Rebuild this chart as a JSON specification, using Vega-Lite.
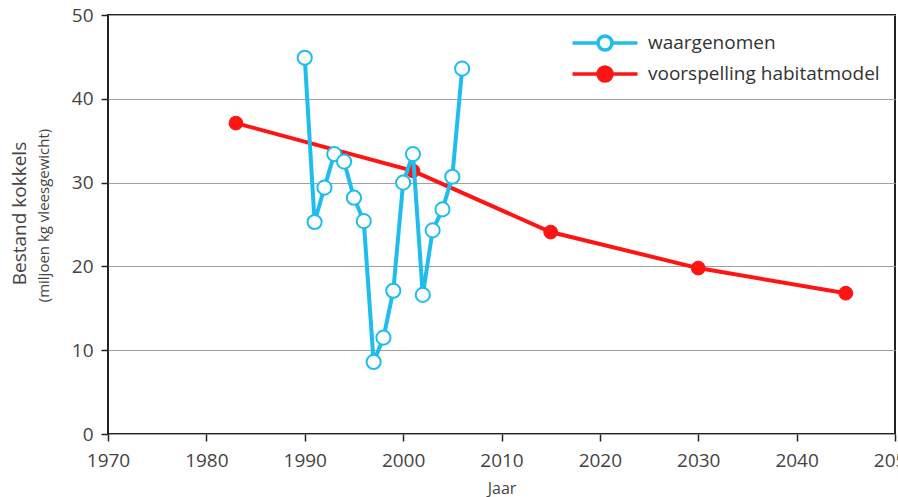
{
  "$schema": "https://vega.github.io/schema/vega-lite/v6.json",
  "width": 787,
  "height": 419,
  "autosize": "none",
  "padding": {"left": 108, "top": 15, "right": 3, "bottom": 63},
  "background": "white",
  "config": {
    "font": "Open Sans",
    "view": {"stroke": "#222", "strokeWidth": 2},
    "axis": {"labelColor": "#444", "titleColor": "#444", "titleFontWeight": "normal"}
  },
  "data": {
    "values": [
      {"jaar": 1983, "waarde": 37.1, "reeks": "voorspelling habitatmodel"},
      {"jaar": 2001, "waarde": 31.4, "reeks": "voorspelling habitatmodel"},
      {"jaar": 2015, "waarde": 24.1, "reeks": "voorspelling habitatmodel"},
      {"jaar": 2030, "waarde": 19.8, "reeks": "voorspelling habitatmodel"},
      {"jaar": 2045, "waarde": 16.8, "reeks": "voorspelling habitatmodel"},
      {"jaar": 1990, "waarde": 44.9, "reeks": "waargenomen"},
      {"jaar": 1991, "waarde": 25.3, "reeks": "waargenomen"},
      {"jaar": 1992, "waarde": 29.4, "reeks": "waargenomen"},
      {"jaar": 1993, "waarde": 33.4, "reeks": "waargenomen"},
      {"jaar": 1994, "waarde": 32.5, "reeks": "waargenomen"},
      {"jaar": 1995, "waarde": 28.2, "reeks": "waargenomen"},
      {"jaar": 1996, "waarde": 25.4, "reeks": "waargenomen"},
      {"jaar": 1997, "waarde": 8.6, "reeks": "waargenomen"},
      {"jaar": 1998, "waarde": 11.5, "reeks": "waargenomen"},
      {"jaar": 1999, "waarde": 17.1, "reeks": "waargenomen"},
      {"jaar": 2000, "waarde": 30.0, "reeks": "waargenomen"},
      {"jaar": 2001, "waarde": 33.4, "reeks": "waargenomen"},
      {"jaar": 2002, "waarde": 16.6, "reeks": "waargenomen"},
      {"jaar": 2003, "waarde": 24.3, "reeks": "waargenomen"},
      {"jaar": 2004, "waarde": 26.8, "reeks": "waargenomen"},
      {"jaar": 2005, "waarde": 30.7, "reeks": "waargenomen"},
      {"jaar": 2006, "waarde": 43.6, "reeks": "waargenomen"}
    ]
  },
  "encoding": {
    "x": {
      "field": "jaar", "type": "quantitative",
      "scale": {"domain": [1970, 2050], "nice": false, "zero": false},
      "axis": {
        "title": "Jaar", "titleFontSize": 16, "titlePadding": 10,
        "values": [1970, 1980, 1990, 2000, 2010, 2020, 2030, 2040, 2050],
        "format": "d", "labelFontSize": 19, "labelPadding": 10, "labelFlush": false,
        "domain": false, "grid": false, "tickColor": "#222", "tickSize": 7, "tickWidth": 1.5
      }
    },
    "y": {
      "field": "waarde", "type": "quantitative",
      "scale": {"domain": [0, 50], "nice": false},
      "axis": null
    },
    "stroke": {
      "field": "reeks", "type": "nominal",
      "scale": {"domain": ["waargenomen", "voorspelling habitatmodel"], "range": ["#1fbdee", "#ff1414"]},
      "legend": {
        "title": null,
        "orient": "none", "legendX": 485, "legendY": 16,
        "padding": 0,
        "symbolType": "M-3.25,0L-0.7,0M0.7,0L3.25,0M-0.7,0A0.7,0.7 0 1,0 0.7,0A0.7,0.7 0 1,0 -0.7,0Z",
        "symbolSize": 400, "symbolStrokeWidth": 3.5,
        "labelFontSize": 19, "labelColor": "#333", "labelOffset": 31,
        "rowPadding": 3,
        "labelLimit": 400
      }
    }
  },
  "layer": [
    {
      "transform": [{"filter": "datum.reeks === 'voorspelling habitatmodel'"}],
      "mark": {"type": "line", "strokeWidth": 4},
      "encoding": {
        "y": {
          "field": "waarde", "type": "quantitative",
          "axis": {
            "orient": "left",
            "title": "Bestand kokkels", "titleFontSize": 19, "titleX": -89, "titleY": 198, "titleBaseline": "middle", "titleAngle": 270,
            "values": [0, 10, 20, 30, 40, 50],
            "labelFontSize": 19, "labelPadding": 8,
            "domain": false, "grid": true, "gridColor": "#a0a0a0", "gridWidth": 1,
            "tickColor": "#222", "tickSize": 7, "tickWidth": 1.5
          }
        }
      }
    },
    {
      "transform": [{"filter": "datum.reeks === 'voorspelling habitatmodel'"}],
      "mark": {"type": "point", "filled": true, "size": 190, "strokeWidth": 1, "opacity": 1},
      "encoding": {
        "fill": {
          "field": "reeks", "type": "nominal",
          "scale": {"domain": ["waargenomen", "voorspelling habitatmodel"], "range": ["white", "#ff1414"]},
          "legend": {
            "title": null,
            "orient": "none", "legendX": 485, "legendY": 16,
            "padding": 0,
            "symbolType": "M-3.25,0L-0.7,0M0.7,0L3.25,0M-0.7,0A0.7,0.7 0 1,0 0.7,0A0.7,0.7 0 1,0 -0.7,0Z",
            "symbolSize": 400, "symbolStrokeWidth": 3.5,
            "labelFontSize": 19, "labelColor": "#333", "labelOffset": 31,
            "rowPadding": 3,
            "labelLimit": 400
          }
        }
      }
    },
    {
      "transform": [{"filter": "datum.reeks === 'waargenomen'"}],
      "mark": {"type": "line", "strokeWidth": 4},
      "encoding": {
        "y": {
          "field": "waarde", "type": "quantitative",
          "axis": {
            "orient": "left",
            "title": "(miljoen kg vleesgewicht)", "titleFontSize": 15, "titleX": -65, "titleY": 200, "titleBaseline": "middle", "titleAngle": 270,
            "labels": false, "ticks": false, "domain": false, "grid": false
          }
        }
      }
    },
    {
      "transform": [{"filter": "datum.reeks === 'waargenomen'"}],
      "mark": {"type": "point", "filled": true, "size": 200, "strokeWidth": 2, "opacity": 1},
      "encoding": {
        "fill": {
          "field": "reeks", "type": "nominal",
          "scale": {"domain": ["waargenomen", "voorspelling habitatmodel"], "range": ["white", "#ff1414"]}
        }
      }
    }
  ],
  "resolve": {"axis": {"y": "independent"}}
}
